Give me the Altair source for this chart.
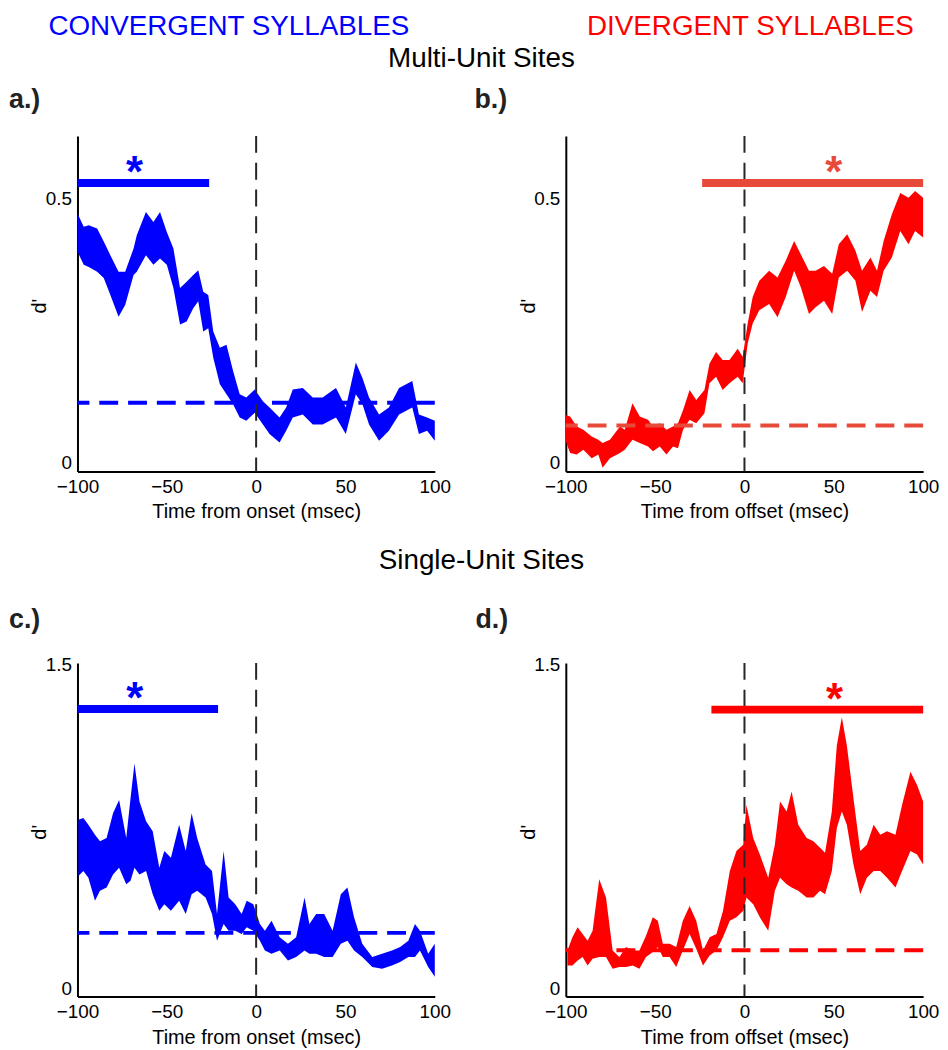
import altair as alt
import pandas as pd

FONT = "Liberation Sans"
BLUE = "#0000ff"
RED = "#ff0000"
ORANGE = "#e84a3a"

# ---- Panel a: multi-unit, convergent (time from onset) ----
t_a = [-100, -96.5, -93.7, -89, -85.3, -81.6, -77, -73.3, -68.6, -66.8, -61.7, -57.5, -53.8, -50,
       -46.3, -42.6, -38.9, -35.2, -32.4, -29.6, -26.8, -24, -20.3, -16.6, -12.9, -9.2, -5.5, -0.8,
       3.8, 7.5, 13.1, 16.8, 20.5, 26.1, 31.7, 37.2, 44.7, 50.2, 55.8, 59.5, 63.2, 68.8, 74.3, 80,
       87.4, 91.1, 95.7, 100]
up_a = [0.472, 0.447, 0.450, 0.444, 0.419, 0.393, 0.362, 0.362, 0.406, 0.431, 0.475, 0.456, 0.475, 0.437,
        0.406, 0.331, 0.343, 0.356, 0.365, 0.324, 0.318, 0.249, 0.218, 0.224, 0.174, 0.130, 0.124, 0.139,
        0.117, 0.105, 0.086, 0.105, 0.139, 0.142, 0.124, 0.124, 0.142, 0.105, 0.190, 0.161, 0.124, 0.092,
        0.105, 0.142, 0.155, 0.092, 0.086, 0.080]
lo_a = [0.400, 0.375, 0.371, 0.362, 0.350, 0.318, 0.277, 0.299, 0.356, 0.362, 0.393, 0.375, 0.387, 0.375,
        0.331, 0.262, 0.268, 0.293, 0.306, 0.249, 0.255, 0.199, 0.149, 0.130, 0.111, 0.086, 0.080, 0.095,
        0.073, 0.055, 0.039, 0.061, 0.086, 0.092, 0.073, 0.073, 0.086, 0.055, 0.130, 0.111, 0.073, 0.042,
        0.061, 0.092, 0.105, 0.055, 0.061, 0.042]

# ---- Panel b: multi-unit, divergent (time from offset) ----
t_b = [-100, -97.6, -93.9, -90.2, -85.5, -81.8, -79.4, -75.3, -69.7, -67, -62.7, -58.6, -54, -51.2,
       -47.4, -43.7, -40, -37.2, -34.4, -30.7, -27, -22.4, -19.6, -15.9, -12.2, -8.4, -3.8, -1,
       1.8, 4.6, 8.3, 13.8, 18.5, 23.1, 27.8, 31.5, 36.1, 39.8, 44.5, 49.1, 52.8, 57.5, 62.1, 65.8,
       70.5, 74.2, 77.9, 82.5, 87.2, 91.8, 95.5, 100]
up_b = [0.091, 0.088, 0.069, 0.063, 0.050, 0.044, 0.038, 0.044, 0.069, 0.063, 0.113, 0.088, 0.082, 0.069,
        0.075, 0.063, 0.069, 0.075, 0.100, 0.138, 0.119, 0.138, 0.188, 0.210, 0.195, 0.195, 0.216, 0.201,
        0.264, 0.314, 0.345, 0.364, 0.351, 0.383, 0.420, 0.395, 0.364, 0.364, 0.373, 0.358, 0.414, 0.433,
        0.402, 0.364, 0.389, 0.364, 0.420, 0.471, 0.511, 0.502, 0.515, 0.502]
lo_b = [0.041, 0.019, 0.016, 0.025, 0.009, 0.016, -0.009, 0.009, 0.019, 0.025, 0.044, 0.038, 0.031, 0.022,
        0.031, 0.016, 0.031, 0.028, 0.063, 0.082, 0.075, 0.094, 0.151, 0.163, 0.138, 0.151, 0.163, 0.151,
        0.226, 0.264, 0.289, 0.301, 0.276, 0.314, 0.364, 0.333, 0.282, 0.295, 0.307, 0.282, 0.351, 0.364,
        0.345, 0.286, 0.326, 0.314, 0.364, 0.389, 0.439, 0.414, 0.439, 0.427]

# ---- Panel c: single-unit, convergent ----
t_c = [-99.5, -96.7, -93.9, -90.2, -87.4, -83.7, -80.1, -76.7, -72.7, -70.3, -68.1, -65.3, -61.6, -57.9,
       -54.2, -51.4, -47.7, -43.1, -39.4, -36.1, -33, -28.3, -24.7, -21.9, -18.2, -15.4, -11.7, -8.1,
       -5.3, -1.6, 2.1, 4.9, 8.6, 13.2, 17.8, 22.4, 27.1, 29.8, 33.6, 38.1, 42.8, 47.4, 51.1, 54.8,
       59.4, 65, 70.5, 76, 80.6, 85.2, 88.9, 91.7, 96.3, 100]
up_c = [0.782, 0.790, 0.759, 0.713, 0.683, 0.698, 0.813, 0.874, 0.698, 0.882, 1.043, 0.867, 0.775, 0.729,
        0.560, 0.637, 0.606, 0.759, 0.637, 0.813, 0.698, 0.575, 0.545, 0.345, 0.637, 0.422, 0.391, 0.345,
        0.407, 0.391, 0.299, 0.268, 0.314, 0.238, 0.207, 0.238, 0.422, 0.299, 0.345, 0.345, 0.268, 0.437,
        0.468, 0.330, 0.207, 0.146, 0.161, 0.176, 0.192, 0.222, 0.299, 0.268, 0.161, 0.207]
lo_c = [0.522, 0.545, 0.514, 0.407, 0.453, 0.468, 0.529, 0.560, 0.483, 0.499, 0.560, 0.529, 0.545, 0.437,
        0.360, 0.391, 0.360, 0.407, 0.345, 0.437, 0.453, 0.422, 0.345, 0.222, 0.299, 0.268, 0.268, 0.253,
        0.284, 0.268, 0.222, 0.176, 0.161, 0.176, 0.130, 0.146, 0.176, 0.161, 0.161, 0.146, 0.146, 0.207,
        0.222, 0.176, 0.146, 0.100, 0.092, 0.107, 0.123, 0.146, 0.146, 0.176, 0.100, 0.054]

# ---- Panel d: single-unit, divergent ----
t_d = [-99.1, -96.3, -93.4, -90.6, -87.8, -85, -81.3, -77.5, -73.8, -70, -66.3, -62.5, -58.8, -55.1,
       -51.3, -48.5, -45.7, -41.9, -38.2, -34.5, -30.7, -27, -23.2, -19.5, -15.7, -12, -8.2, -4.5,
       -0.7, 1.1, 4.9, 8.6, 13.3, 17, 19.9, 23.6, 26.4, 30.1, 34.8, 38.6, 42.3, 45.1, 48.9, 51.7,
       54.5, 57.3, 61.0, 64.8, 68.5, 72.3, 76, 79.8, 84.5, 88.2, 92.9, 96.6, 100]
up_d = [0.176, 0.238, 0.284, 0.253, 0.222, 0.268, 0.506, 0.422, 0.176, 0.146, 0.192, 0.176, 0.176, 0.245,
        0.330, 0.314, 0.207, 0.207, 0.192, 0.314, 0.383, 0.314, 0.176, 0.238, 0.253, 0.360, 0.545, 0.637,
        0.667, 0.851, 0.698, 0.621, 0.514, 0.667, 0.867, 0.821, 0.913, 0.759, 0.698, 0.683, 0.652, 0.629,
        0.821, 1.127, 1.258, 1.127, 0.882, 0.637, 0.667, 0.759, 0.713, 0.729, 0.713, 0.851, 1.005, 0.943,
        0.867]
lo_d = [0.107, 0.107, 0.130, 0.146, 0.107, 0.138, 0.146, 0.146, 0.092, 0.100, 0.100, 0.107, 0.092, 0.146,
        0.169, 0.192, 0.146, 0.146, 0.100, 0.176, 0.253, 0.184, 0.107, 0.153, 0.176, 0.238, 0.314, 0.330,
        0.360, 0.422, 0.391, 0.330, 0.268, 0.453, 0.514, 0.483, 0.468, 0.453, 0.422, 0.422, 0.453, 0.437,
        0.545, 0.744, 0.821, 0.759, 0.575, 0.437, 0.514, 0.545, 0.545, 0.514, 0.468, 0.545, 0.637, 0.621,
        0.575]

# chance levels (dashed) and significance bars [start, end, level], star positions
dash_levels = [0.114, 0.071, 0.258, 0.177]
sig_bars = [[-100, -26.3, 0.530], [-23.7, 100, 0.530], [-100, -21.3, 1.296], [-18.5, 100, 1.293]]
star_x = [-68.1, 50.0, -68.0, 50.4]
x_ticks = [-100, -50, 0, 50, 100]

X_LABEL = "datum.value < 0 ? '\u2212' + abs(datum.value) : '' + datum.value"
Y_LABEL = "'' + datum.value"


def panel(t, up, lo, band_color, ydom, yticks, height, xtitle, tpad, dash_y, dash_color,
          bar, bar_color, sx, star_color, texts):
    xscale = alt.Scale(domain=[-100, 100], nice=False, zero=False)
    yscale = alt.Scale(domain=ydom, nice=False, zero=False)
    xaxis = alt.Axis(values=x_ticks, title=xtitle, labelPadding=6, titlePadding=tpad,
                     labelFlush=False, labelOverlap=False, labelExpr=X_LABEL)
    yaxis = alt.Axis(values=yticks, title="d'", labelPadding=6, titleX=-32, titleY=height / 2 + 2,
                     titleBaseline="alphabetic", titleAlign="center", labelFlush=False,
                     labelOverlap=False, labelExpr=Y_LABEL)

    band = alt.Chart(pd.DataFrame({"t": t, "up": up, "lo": lo})).mark_area(
        color=band_color, opacity=1, interpolate="linear"
    ).encode(
        x=alt.X("t:Q", scale=xscale, axis=xaxis),
        y=alt.Y("up:Q", scale=yscale, axis=yaxis),
        y2="lo:Q",
    )
    hdash = alt.Chart(pd.DataFrame({"v": [dash_y]})).mark_rule(
        color=dash_color, strokeWidth=4, strokeDash=[19, 10]
    ).encode(y=alt.Y("v:Q", scale=yscale, axis=yaxis))
    vdash = alt.Chart(pd.DataFrame({"v": [0]})).mark_rule(
        color="#262626", strokeWidth=2, strokeDash=[17, 10]
    ).encode(x=alt.X("v:Q", scale=xscale, axis=xaxis))
    sig = alt.Chart(pd.DataFrame({"x0": [bar[0]], "x1": [bar[1]], "y": [bar[2]]})).mark_rule(
        color=bar_color, strokeWidth=8, strokeCap="butt"
    ).encode(
        x=alt.X("x0:Q", scale=xscale, axis=xaxis),
        x2="x1:Q",
        y=alt.Y("y:Q", scale=yscale, axis=yaxis),
    )
    star = alt.Chart(pd.DataFrame({"x": [sx], "y": [bar[2]], "s": ["*"]})).mark_text(
        font=FONT, fontSize=44, fontWeight="bold", color=star_color, baseline="alphabetic",
        align="center", dy=4
    ).encode(
        x=alt.X("x:Q", scale=xscale, axis=xaxis),
        y=alt.Y("y:Q", scale=yscale, axis=yaxis),
        text="s:N",
    )
    layers = [band, hdash, vdash, sig, star]
    for (label, px, py, size, weight, color, align) in texts:
        layers.append(
            alt.Chart(pd.DataFrame({"s": [label]})).mark_text(
                font=FONT, fontSize=size, fontWeight=weight, color=color, align=align,
                baseline="alphabetic"
            ).encode(x=alt.value(px), y=alt.value(py), text="s:N")
        )
    return alt.layer(*layers).properties(width=360, height=height)


pa = panel(t_a, up_a, lo_a, BLUE, [-0.016, 0.619], [0, 0.5], 338, "Time from onset (msec)", 5,
           dash_levels[0], BLUE, sig_bars[0], BLUE, star_x[0], BLUE,
           [("CONVERGENT SYLLABLES", 152.5, -102, 28, "normal", BLUE, "center"),
            ("Multi-Unit Sites", 407, -69, 28, "normal", "black", "center"),
            ("a.)", -69, -28, 27, "bold", "#222222", "left")])
pb = panel(t_b, up_b, lo_b, RED, [-0.016, 0.619], [0, 0.5], 338, "Time from offset (msec)", 5,
           dash_levels[1], ORANGE, sig_bars[1], ORANGE, star_x[1], ORANGE,
           [("DIVERGENT SYLLABLES", 186, -102, 28, "normal", RED, "center"),
            ("b.)", -92, -28, 27, "bold", "#222222", "left")])
pc = panel(t_c, up_c, lo_c, BLUE, [-0.037, 1.509], [0, 1.5], 336, "Time from onset (msec)", 6,
           dash_levels[2], BLUE, sig_bars[2], BLUE, star_x[2], BLUE,
           [("Single-Unit Sites", 407, -95, 28, "normal", "black", "center"),
            ("c.)", -69, -35, 27, "bold", "#222222", "left")])
pd_ = panel(t_d, up_d, lo_d, RED, [-0.037, 1.509], [0, 1.5], 336, "Time from offset (msec)", 6,
            dash_levels[3], RED, sig_bars[3], RED, star_x[3], RED,
            [("d.)", -91, -35, 27, "bold", "#222222", "left")])

chart = alt.concat(
    pa, pb, pc, pd_, columns=2, spacing={"row": 193, "column": 132}, bounds="flush"
).properties(
    padding=0
).configure_view(
    stroke="transparent"
).configure_axis(
    domainColor="black", domainWidth=2, ticks=False, tickSize=0, grid=False,
    labelFont=FONT, titleFont=FONT, labelFontSize=19, titleFontSize=20,
    titleFontWeight="normal", labelColor="black", titleColor="black"
)

chart.save("out.html", embed_options={"renderer": "svg", "actions": False})
